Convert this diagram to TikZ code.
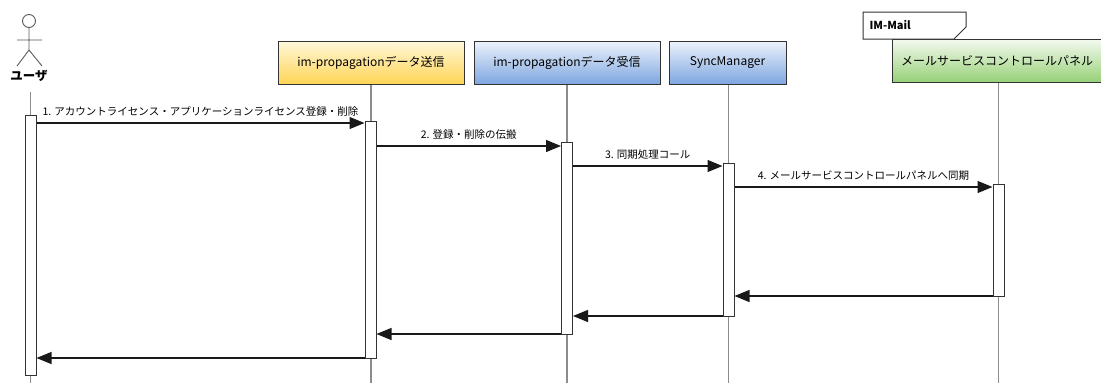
\documentclass[tikz,border=0pt]{standalone}
\usepackage{fontspec}
\setmainfont{Noto Sans CJK JP}
\usepackage{xcolor}
\usepackage{tikz}
\usetikzlibrary{positioning,calc,shapes,arrows.meta}

\definecolor{ylwtop}{HTML}{FFF8DA}
\definecolor{ylwbot}{HTML}{FFD555}
\definecolor{blutop}{HTML}{EDF3FC}
\definecolor{blubot}{HTML}{7EA6E0}
\definecolor{grntop}{HTML}{F4FAF0}
\definecolor{grnbot}{HTML}{97D077}

\begin{document}
\begin{tikzpicture}[x=1pt,y=-1pt,>={Triangle[length=15pt,width=12pt]},
          font=\fontsize{10.5}{12}\selectfont]
            \tikzstyle{obj}=[draw=black!80, line width=1pt, minimum height=43pt, inner sep=0pt, font=\fontsize{12}{14}\selectfont]
            \tikzstyle{act}=[draw=black!80, fill=white, line width=1pt, minimum width=11pt, inner sep=0pt]
            \tikzstyle{life}=[draw=black!45, line width=1.5pt]
            \tikzstyle{msg}=[->, draw=black!90, line width=1.2pt]
            \useasboundingbox (0,0) rectangle (1101,383);
            % actor
            \node[circle, draw=black!65, line width=0.9pt, minimum size=13pt, inner sep=0pt] (head) at (29,21) {};
            \draw[black!65, line width=0.9pt] (head.south) -- (29,50) coordinate (hip)
                  (17,40) -- (42,40)
                  (17,66) -- (hip) -- (42,66);
            \node[font=\bfseries\fontsize{12.5}{14}\selectfont] (user) at (29,76) {ユーザ};
            % objects
            \node[obj, minimum width=186pt, top color=ylwtop, bottom color=ylwbot] (snd) at (371,62.5) {im-propagationデータ送信};
            \node[obj, minimum width=186pt, top color=blutop, bottom color=blubot] (rcv) at (567,62.5) {im-propagationデータ受信};
            \node[obj, minimum width=117pt, top color=blutop, bottom color=blubot] (sync) at (727.5,62.5) {SyncManager};
            \node[obj, minimum width=210pt, top color=grntop, bottom color=grnbot] (mail) at (997,60.5) {メールサービスコントロールパネル};
            \draw[draw=black!80, fill=white, line width=1pt] (863,12) -- (966,12) -- (966,27) -- (954,39) -- (863,39) -- cycle;
            \node[anchor=west, font=\bfseries\fontsize{11}{12}\selectfont] (frame) at (866,25.5) {IM-Mail};
            % lifelines
            \coordinate (bot) at (0,383);
            \coordinate (u0) at (30.5,92);
            \draw[life] (u0) -- (u0 |- bot);
            \draw[life] (snd.south) -- (snd.south |- bot);
            \draw[life] (rcv.south) -- (rcv.south |- bot);
            \draw[life] ([xshift=1pt]sync.south) -- ([xshift=1pt]sync.south |- bot);
            \draw[life] ([xshift=1.5pt]mail.south) -- ([xshift=1.5pt]mail.south |- bot);
            % activations
            \node[act, minimum height=260pt] (a0) at (30.5,245) {};
            \node[act, minimum height=237pt] (a1) at (370.5,239.5) {};
            \node[act, minimum height=192pt] (a2) at (567,238) {};
            \node[act, minimum height=153pt] (a3) at (728.5,239.5) {};
            \node[act, minimum height=112pt] (a4) at (998.5,240) {};
            % messages
            \coordinate (m1) at (0,123);
            \coordinate (m2) at (0,146);
            \coordinate (m3) at (0,166);
            \coordinate (m4) at (0,187);
            \coordinate (r4) at (0,296);
            \coordinate (r3) at (0,316);
            \coordinate (r2) at (0,334);
            \coordinate (r1) at (0,358);
            \draw[msg] (a0.east |- m1) -- node[above=3pt] {1. アカウントライセンス・アプリケーションライセンス登録・削除} (a1.west |- m1);
            \draw[msg] (a1.east |- m2) -- node[above=3pt] {2. 登録・削除の伝搬} (a2.west |- m2);
            \draw[msg] (a2.east |- m3) -- node[above=3pt] {3. 同期処理コール} (a3.west |- m3);
            \draw[msg] (a3.east |- m4) -- node[above=3pt] {4. メールサービスコントロールパネルへ同期} (a4.west |- m4);
            \draw[msg] (a4.west |- r4) -- (a3.east |- r4);
            \draw[msg] (a3.west |- r3) -- (a2.east |- r3);
            \draw[msg] (a2.west |- r2) -- (a1.east |- r2);
            \draw[msg] (a1.west |- r1) -- (a0.east |- r1);
        \end{tikzpicture}
\end{document}
